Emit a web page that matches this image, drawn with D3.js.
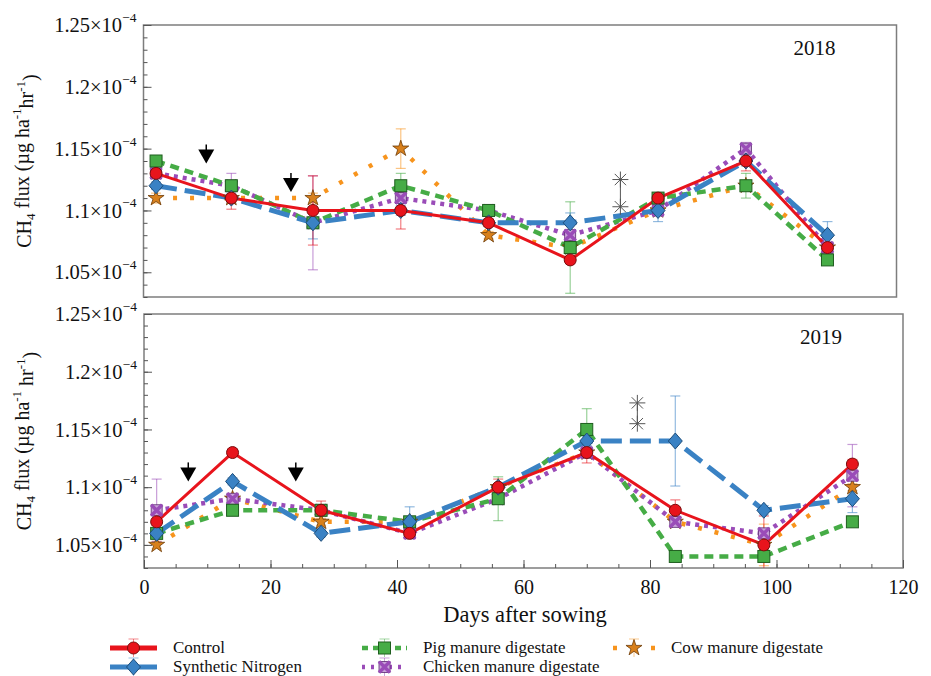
<!DOCTYPE html>
<html>
<head>
<meta charset="utf-8">
<script src="https://cdn.jsdelivr.net/npm/d3@7"></script>
<style>
  body { margin: 0; background: #fff; }
</style>
</head>
<body>
<svg id="chart" width="931" height="676"></svg>
<script>
// values are in units of 1e-4 ug ha-1 hr-1
const days2018 = [2, 14, 27, 41, 55, 68, 82, 96, 109];
const days2019 = [2, 14, 28, 42, 56, 70, 84, 98, 112];

const control2018   = [1.13, 1.11, 1.10, 1.10, 1.09, 1.06, 1.11, 1.14, 1.07];
const synthetic2018 = [1.12, 1.11, 1.09, 1.10, 1.09, 1.09, 1.10, 1.14, 1.08];
const pig2018       = [1.14, 1.12, 1.09, 1.12, 1.10, 1.07, 1.11, 1.12, 1.06];
const chicken2018   = [1.13, 1.12, 1.09, 1.11, 1.10, 1.08, 1.10, 1.15, 1.07];
const cow2018       = [1.11, 1.11, 1.11, 1.15, 1.08, 1.07, 1.10, 1.12, 1.07];

const controlErr2018   = [0.003, 0.009, 0.028, 0.015, 0.003, 0.003, 0.003, 0.008, 0.003];
const syntheticErr2018 = [0.003, 0.004, 0.013, 0.004, 0.003, 0.008, 0.009, 0.004, 0.011];
const pigErr2018       = [0.004, 0.004, 0.004, 0.010, 0.004, 0.037, 0.004, 0.010, 0.003];
const chickenErr2018   = [0.003, 0.010, 0.038, 0.004, 0.003, 0.004, 0.003, 0.005, 0.003];
const cowErr2018       = [0.004, 0.003, 0.004, 0.016, 0.003, 0.003, 0.003, 0.004, 0.003];

const control2019   = [1.07, 1.13, 1.08, 1.06, 1.10, 1.13, 1.08, 1.05, 1.12];
const synthetic2019 = [1.06, 1.105, 1.06, 1.07, 1.10, 1.14, 1.14, 1.08, 1.09];
const pig2019       = [1.06, 1.08, 1.08, 1.07, 1.09, 1.15, 1.04, 1.04, 1.07];
const chicken2019   = [1.08, 1.09, 1.08, 1.06, 1.09, 1.13, 1.07, 1.06, 1.11];
const cow2019       = [1.05, 1.09, 1.07, 1.07, 1.10, 1.13, 1.07, 1.05, 1.10];

const controlErr2019   = [0.003, 0.003, 0.008, 0.003, 0.007, 0.009, 0.009, 0.025, 0.004];
const syntheticErr2019 = [0.003, 0.003, 0.003, 0.013, 0.003, 0.004, 0.039, 0.004, 0.012];
const pigErr2019       = [0.003, 0.003, 0.003, 0.003, 0.019, 0.018, 0.004, 0.003, 0.003];
const chickenErr2019   = [0.027, 0.003, 0.003, 0.003, 0.003, 0.003, 0.003, 0.004, 0.027];
const cowErr2019       = [0.003, 0.003, 0.003, 0.003, 0.003, 0.003, 0.003, 0.018, 0.003];

// fertiliser application arrows (tip position) and significance marks
const arrows2018 = [{day: 10, v: 1.138}, {day: 23.5, v: 1.115}];
const arrows2019 = [{day: 7, v: 1.105}, {day: 24, v: 1.105}];
const stars2018 = {day: 76, v: [1.125, 1.103]};
const stars2019 = {day: 78, v: [1.173, 1.155]};

const yMajor = [1.05, 1.10, 1.15, 1.20, 1.25];
const xMajor = [0, 20, 40, 60, 80, 100, 120];

const seriesNames = ["Control", "Synthetic Nitrogen", "Pig manure digestate",
                     "Chicken manure digestate", "Cow manure digestate"];

const styles = {
  "Control":                  {color: "#e8141c", edge: "#7a0c0c", width: 3,   dash: null,    symbol: "circle"},
  "Synthetic Nitrogen":       {color: "#3a82c4", edge: "#1d4d7a", width: 5,   dash: "21 8",  symbol: "diamond"},
  "Pig manure digestate":     {color: "#46ac46", edge: "#1f5e1f", width: 4.5, dash: "9 6",   symbol: "square"},
  "Chicken manure digestate": {color: "#9a4cb8", edge: "#5a2a70", width: 4.5, dash: "4 5",   symbol: "bowtie"},
  "Cow manure digestate":     {color: "#f7941d", edge: "#6e3c08", width: 4.5, dash: "4 13",  symbol: "star"}
};

const FONT = "Liberation Serif";
const svg = d3.select("#chart").style("font-family", FONT);

function marker(g, kind, x, y, st) {
  if (kind === "circle") {
    g.append("circle").attr("cx", x).attr("cy", y).attr("r", 6)
      .attr("fill", st.color).attr("stroke", st.edge).attr("stroke-width", 1);
  } else if (kind === "diamond") {
    g.append("path").attr("transform", `translate(${x},${y})`)
      .attr("d", "M0,-8L7,0L0,8L-7,0Z")
      .attr("fill", st.color).attr("stroke", st.edge).attr("stroke-width", 1);
  } else if (kind === "square") {
    g.append("rect").attr("x", x - 6).attr("y", y - 6).attr("width", 12).attr("height", 12)
      .attr("fill", st.color).attr("stroke", st.edge).attr("stroke-width", 1);
  } else if (kind === "bowtie") {
    g.append("rect").attr("x", x - 5.5).attr("y", y - 5.5).attr("width", 11).attr("height", 11)
      .attr("fill", "#c9a3d9").attr("stroke", st.edge).attr("stroke-width", 0.8);
    g.append("path").attr("transform", `translate(${x},${y})`)
      .attr("d", "M-5.5,-5.5L5.5,5.5M5.5,-5.5L-5.5,5.5")
      .attr("stroke", st.color).attr("stroke-width", 3.5);
  } else if (kind === "star") {
    g.append("path").attr("transform", `translate(${x},${y})`)
      .attr("d", d3.symbol(d3.symbolStar, 80)())
      .attr("fill", "#d8801c").attr("stroke", st.edge).attr("stroke-width", 0.8);
  }
}

function asterisk(g, cx, cy) {
  const r = 8;
  [0, 45, 90, 135].forEach(a => {
    const dx = r * Math.cos(a * Math.PI / 180), dy = r * Math.sin(a * Math.PI / 180);
    g.append("line").attr("x1", cx - dx).attr("y1", cy - dy).attr("x2", cx + dx).attr("y2", cy + dy)
      .attr("stroke", "#555").attr("stroke-width", 1);
  });
}

function panel(opt) {
  const {left, right, top, bottom, days, data, errs, arrows, stars, year, showX} = opt;
  const x = d3.scaleLinear().domain([0, 120]).range([left, right]);
  const y = d3.scaleLinear().domain([1.03, 1.25]).range([bottom, top]);
  const g = svg.append("g");

  g.append("rect").attr("x", left).attr("y", top)
    .attr("width", right - left).attr("height", bottom - top)
    .attr("fill", "none").attr("stroke", "#7d7d7d").attr("stroke-width", 1.5);

  // minor y ticks
  g.append("g").attr("transform", `translate(${left},0)`)
    .call(d3.axisLeft(y).tickValues(d3.range(1.03, 1.2501, 0.01)).tickSize(-4).tickFormat(""))
    .call(a => a.select(".domain").remove())
    .call(a => a.selectAll("line").attr("stroke", "#555"));

  // major y ticks with x10^-4 labels
  const ya = g.append("g").attr("transform", `translate(${left},0)`)
    .call(d3.axisLeft(y).tickValues(yMajor).tickSizeInner(-8).tickSizeOuter(0).tickPadding(7))
    .call(a => a.select(".domain").remove())
    .call(a => a.selectAll("line").attr("stroke", "#555"));
  ya.selectAll("text")
    .style("font-family", FONT).style("font-size", "20.5px").attr("fill", "#111")
    .text(null)
    .each(function(d) {
      const t = d3.select(this);
      t.append("tspan").text(String(+d.toFixed(2)) + "\u00d710");
      t.append("tspan").style("font-size", "13.5px").attr("dy", "-0.75em").text("\u22124");
    });

  if (showX) {
    g.append("g").attr("transform", `translate(0,${bottom})`)
      .call(d3.axisBottom(x).tickValues(d3.range(0, 121, 5)).tickSize(-4).tickFormat(""))
      .call(a => a.select(".domain").remove())
      .call(a => a.selectAll("line").attr("stroke", "#555"));
    g.append("g").attr("transform", `translate(0,${bottom})`)
      .call(d3.axisBottom(x).tickValues(xMajor).tickSizeInner(-8).tickSizeOuter(0).tickPadding(12))
      .call(a => a.select(".domain").remove())
      .call(a => a.selectAll("line").attr("stroke", "#555"))
      .call(a => a.selectAll("text").style("font-family", FONT)
        .style("font-size", "20px").attr("fill", "#111"));
  }

  // y axis title
  const yt = g.append("text")
    .attr("transform", `translate(31,${(top + bottom) / 2}) rotate(-90)`)
    .attr("text-anchor", "middle").style("font-family", FONT).style("font-size", "20px").attr("fill", "#111");
  yt.append("tspan").text("CH");
  yt.append("tspan").style("font-size", "13px").attr("dy", "0.3em").text("4");
  yt.append("tspan").attr("dy", "-0.3em").text(" flux (\u00b5g ha");
  yt.append("tspan").style("font-size", "13px").attr("dy", "-0.6em").text("-1");
  yt.append("tspan").attr("dy", "0.6em").text(year === "2018" ? "hr" : " hr");
  yt.append("tspan").style("font-size", "13px").attr("dy", "-0.6em").text("-1");
  yt.append("tspan").attr("dy", "0.6em").text(")");

  g.append("text").attr("x", right - 82).attr("y", top + 30)
    .attr("text-anchor", "middle").style("font-family", FONT).style("font-size", "21px")
    .attr("fill", "#111").text(year);

  const line = d3.line().x((d, i) => x(days[i])).y(d => y(d));
  const order = [4, 3, 2, 1, 0];

  // error bars
  order.forEach(k => {
    const st = styles[seriesNames[k]];
    const eg = g.append("g").attr("stroke", st.color).attr("stroke-opacity", 0.55).attr("stroke-width", 1.2);
    data[k].forEach((v, i) => {
      const cx = x(days[i]);
      const y1 = Math.min(y(v - errs[k][i]), bottom), y2 = y(v + errs[k][i]);
      eg.append("line").attr("x1", cx).attr("x2", cx).attr("y1", y1).attr("y2", y2);
      eg.append("line").attr("x1", cx - 5).attr("x2", cx + 5).attr("y1", y2).attr("y2", y2);
      if (y(v - errs[k][i]) < bottom)
        eg.append("line").attr("x1", cx - 5).attr("x2", cx + 5).attr("y1", y1).attr("y2", y1);
    });
  });

  order.forEach(k => {
    const st = styles[seriesNames[k]];
    g.append("path").datum(data[k]).attr("d", line)
      .attr("fill", "none").attr("stroke", st.color).attr("stroke-width", st.width)
      .attr("stroke-dasharray", st.dash);
  });
  order.forEach(k => {
    const st = styles[seriesNames[k]];
    data[k].forEach((v, i) => marker(g, st.symbol, x(days[i]), y(v), st));
  });

  arrows.forEach(a => {
    const ax = x(a.day), ay = y(a.v);
    g.append("line").attr("x1", ax).attr("x2", ax).attr("y1", ay - 19).attr("y2", ay - 10)
      .attr("stroke", "#000").attr("stroke-width", 1.5);
    g.append("path").attr("d", `M${ax - 8},${ay - 14}L${ax + 8},${ay - 14}L${ax},${ay}Z`).attr("fill", "#000");
  });

  const sx = x(stars.day);
  g.append("line").attr("x1", sx).attr("x2", sx).attr("y1", y(stars.v[0])).attr("y2", y(stars.v[1]))
    .attr("stroke", "#555").attr("stroke-width", 1);
  stars.v.forEach(v => asterisk(g, sx, y(v)));
}

panel({left: 143.5, right: 896.5, top: 25, bottom: 297, days: days2018,
  data: [control2018, synthetic2018, pig2018, chicken2018, cow2018],
  errs: [controlErr2018, syntheticErr2018, pigErr2018, chickenErr2018, cowErr2018],
  arrows: arrows2018, stars: stars2018, year: "2018", showX: false});

panel({left: 144, right: 903, top: 314, bottom: 568, days: days2019,
  data: [control2019, synthetic2019, pig2019, chicken2019, cow2019],
  errs: [controlErr2019, syntheticErr2019, pigErr2019, chickenErr2019, cowErr2019],
  arrows: arrows2019, stars: stars2019, year: "2019", showX: true});

svg.append("text").attr("x", 525).attr("y", 622).attr("text-anchor", "middle")
  .style("font-family", FONT).style("font-size", "22.5px").attr("fill", "#111").text("Days after sowing");

// legend
const legendPos = [
  {x0: 110, x1: 157, row: 0}, {x0: 110, x1: 157, row: 1},
  {x0: 362, x1: 407, row: 0}, {x0: 362, x1: 407, row: 1},
  {x0: 613, x1: 655, row: 0}
];
const legendDash = ["", "", "6 5", "3 6", "4 15"];
const lg = svg.append("g");
seriesNames.forEach((name, k) => {
  const st = styles[name], p = legendPos[k];
  const ly = 648 + p.row * 19, mx = (p.x0 + p.x1) / 2;
  lg.append("line").attr("x1", p.x0).attr("x2", p.x1).attr("y1", ly).attr("y2", ly)
    .attr("stroke", st.color).attr("stroke-width", k < 2 ? 5 : 4.5)
    .attr("stroke-dasharray", legendDash[k] || null);
  lg.append("line").attr("x1", mx).attr("x2", mx).attr("y1", ly - 9).attr("y2", ly + 9)
    .attr("stroke", st.color).attr("stroke-opacity", 0.5);
  lg.append("line").attr("x1", mx - 5).attr("x2", mx + 5).attr("y1", ly - 9).attr("y2", ly - 9)
    .attr("stroke", st.color).attr("stroke-opacity", 0.5);
  marker(lg, st.symbol, mx, ly, st);
  lg.append("text").attr("x", p.x1 + 16).attr("y", ly + 5)
    .style("font-family", FONT).style("font-size", "17px")
    .attr("fill", "#111").text(name);
});
</script>
</body>
</html>
